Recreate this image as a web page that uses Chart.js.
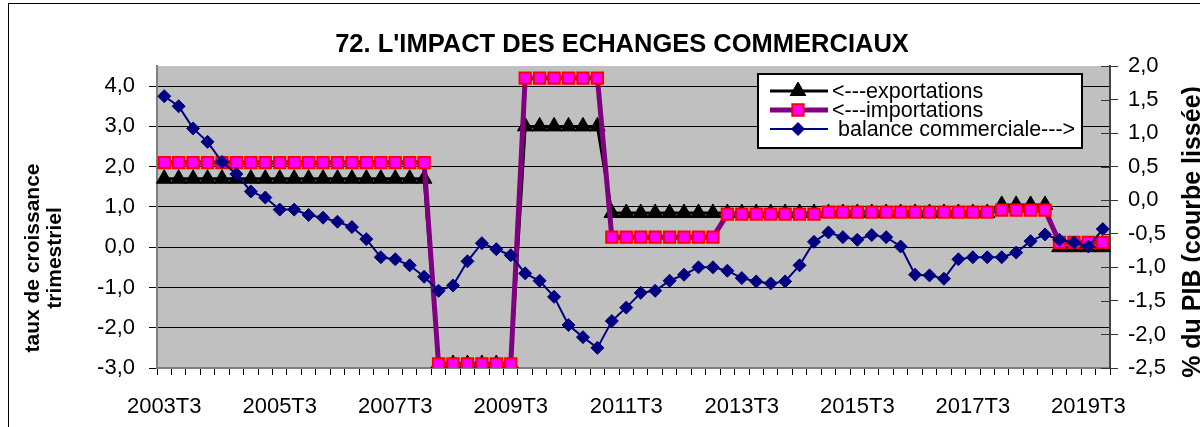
<!DOCTYPE html>
<html>
<head>
<meta charset="utf-8">
<title>L'impact des échanges commerciaux</title>
<script src="https://cdn.jsdelivr.net/npm/chart.js@4.4.0/dist/chart.umd.min.js"></script>
<style>
  html, body { margin: 0; padding: 0; background: #fff; }
  #wrap { width: 1200px; height: 427px; position: relative; }
</style>
</head>
<body>
<div id="wrap"><canvas id="chart"></canvas></div>
<script>
// quarters 2003T3 .. 2019T4
const firstYear = 2003;
const firstQuarter = 3;
const quarterCount = 66;
const quarters = [];
for (let i = 0; i < quarterCount; i++) {
  const q = firstQuarter - 1 + i;
  quarters.push(firstYear + Math.floor(q / 4) + 'T' + (q % 4 + 1));
}

// only every second year is labelled on the x axis
const shownTicks = ['2003T3', '2005T3', '2007T3', '2009T3', '2011T3', '2013T3', '2015T3', '2017T3', '2019T3'];

// taux de croissance trimestriel (left axis)
const exportations = [
  1.7, 1.7, 1.7, 1.7, 1.7, 1.7, 1.7, 1.7, 1.7, 1.7,
  1.7, 1.7, 1.7, 1.7, 1.7, 1.7, 1.7, 1.7, 1.7,
  -2.9, -2.9, -2.9, -2.9, -2.9, -2.9,
  3.0, 3.0, 3.0, 3.0, 3.0, 3.0,
  0.85, 0.85, 0.85, 0.85, 0.85, 0.85, 0.85, 0.85, 0.85, 0.85,
  0.85, 0.85, 0.85, 0.85, 0.85, 0.85, 0.85, 0.85, 0.85, 0.85,
  0.85, 0.85, 0.85, 0.85, 0.85, 0.85, 0.85,
  1.05, 1.05, 1.05, 1.05,
  0.0, 0.0, 0.0, 0.0
];

const importations = [
  2.1, 2.1, 2.1, 2.1, 2.1, 2.1, 2.1, 2.1, 2.1, 2.1,
  2.1, 2.1, 2.1, 2.1, 2.1, 2.1, 2.1, 2.1, 2.1,
  -2.9, -2.9, -2.9, -2.9, -2.9, -2.9,
  4.2, 4.2, 4.2, 4.2, 4.2, 4.2,
  0.25, 0.25, 0.25, 0.25, 0.25, 0.25, 0.25, 0.25,
  0.82, 0.82, 0.82, 0.82, 0.82, 0.82, 0.82,
  0.87, 0.87, 0.87, 0.87, 0.87, 0.87, 0.87, 0.87, 0.87, 0.87, 0.87, 0.87,
  0.92, 0.92, 0.92, 0.92,
  0.12, 0.12, 0.12, 0.12
];

// % du PIB, courbe lissée (right axis)
const balance = [
  1.55, 1.40, 1.07, 0.87, 0.57, 0.39, 0.13, 0.04, -0.14, -0.14,
  -0.22, -0.26, -0.32, -0.40, -0.58, -0.85, -0.88, -0.97, -1.14, -1.35,
  -1.27, -0.91, -0.64, -0.73, -0.82, -1.09, -1.20, -1.44, -1.86, -2.04,
  -2.20, -1.80, -1.60, -1.38, -1.35, -1.20, -1.11, -1.00, -1.00, -1.05,
  -1.16, -1.21, -1.24, -1.21, -0.97, -0.62, -0.48, -0.55, -0.59, -0.52,
  -0.55, -0.69, -1.11, -1.12, -1.17, -0.88, -0.85, -0.85, -0.85, -0.78,
  -0.61, -0.51, -0.59, -0.63, -0.69, -0.43
];

const FONT = "'Liberation Sans', Arial, sans-serif";
const comma = v => v.toFixed(1).replace('.', ',');

// gray plot area, white page and the outer frame
const background = {
  id: 'background',
  beforeDraw(chart) {
    const { ctx, chartArea: a } = chart;
    ctx.save();
    ctx.fillStyle = '#fff';
    ctx.fillRect(0, 0, chart.width, chart.height);
    ctx.fillStyle = '#C0C0C0';
    ctx.fillRect(a.left, a.top, a.right - a.left, a.bottom - a.top);
    ctx.strokeStyle = '#000';
    ctx.lineWidth = 1;
    ctx.strokeRect(8.5, 3.5, chart.width + 20, chart.height + 20);
    ctx.restore();
  }
};

// title, axis titles, crossing ticks on the right axis and the boxed legend
const annotations = {
  id: 'annotations',
  afterDraw(chart) {
    const { ctx } = chart;
    ctx.save();

    // right axis tick marks cross into the plot
    const y1 = chart.scales.y1;
    ctx.strokeStyle = '#333';
    ctx.lineWidth = 1;
    y1.ticks.forEach(t => {
      const py = Math.round(y1.getPixelForValue(t.value)) + 0.5;
      ctx.beginPath();
      ctx.moveTo(y1.left - 9, py);
      ctx.lineTo(y1.left, py);
      ctx.stroke();
    });

    ctx.fillStyle = '#000';
    ctx.textAlign = 'center';
    ctx.textBaseline = 'middle';

    ctx.font = 'bold 25.5px ' + FONT;
    ctx.fillText("72. L'IMPACT DES ECHANGES COMMERCIAUX", 622, 45);

    ctx.font = 'bold 21px ' + FONT;
    ctx.save();
    ctx.translate(33, 258);
    ctx.rotate(-Math.PI / 2);
    ctx.fillText('taux de croissance', 0, 0);
    ctx.fillText('trimestriel', 0, 22);
    ctx.restore();

    ctx.font = 'bold 25px ' + FONT;
    ctx.save();
    ctx.translate(1193, 232);
    ctx.rotate(-Math.PI / 2);
    ctx.fillText('% du PIB (courbe lissée)', 0, 0);
    ctx.restore();

    // legend box
    const box = { x: 758, y: 74, w: 324, h: 74 };
    ctx.fillStyle = '#fff';
    ctx.fillRect(box.x, box.y, box.w, box.h);
    ctx.strokeStyle = '#000';
    ctx.lineWidth = 2;
    ctx.strokeRect(box.x, box.y, box.w, box.h);

    const rows = [91, 110, 129];
    chart.data.datasets.forEach((ds, i) => {
      const y = rows[i];
      ctx.strokeStyle = ds.borderColor;
      ctx.lineWidth = ds.borderWidth;
      ctx.beginPath();
      ctx.moveTo(770, y);
      ctx.lineTo(828, y);
      ctx.stroke();
      ctx.fillStyle = ds.pointBackgroundColor;
      ctx.strokeStyle = ds.pointBorderColor;
      ctx.lineWidth = ds.pointBorderWidth;
      Chart.helpers.drawPoint(ctx, {
        pointStyle: ds.pointStyle,
        radius: ds.pointRadius,
        rotation: 0,
        borderWidth: ds.pointBorderWidth
      }, 798, y);
      ctx.fillStyle = '#000';
      ctx.font = '21.5px ' + FONT;
      ctx.textAlign = 'left';
      ctx.fillText(ds.label, 832, y + 1);
    });
    ctx.restore();
  }
};

new Chart(document.getElementById('chart'), {
  type: 'line',
  data: {
    labels: quarters,
    datasets: [
      {
        label: '<---exportations',
        data: exportations,
        yAxisID: 'y',
        order: 3,
        borderColor: '#000000',
        borderWidth: 3,
        pointStyle: 'triangle',
        pointRadius: 9,
        pointBackgroundColor: '#000000',
        pointBorderColor: '#000000',
        pointBorderWidth: 1,
        tension: 0
      },
      {
        label: '<---importations',
        data: importations,
        yAxisID: 'y',
        order: 2,
        borderColor: '#800080',
        borderWidth: 5,
        pointStyle: 'rect',
        pointRadius: 8,
        pointBackgroundColor: '#FF00FF',
        pointBorderColor: '#FF0000',
        pointBorderWidth: 2,
        tension: 0
      },
      {
        label: ' balance commerciale--->',
        data: balance,
        yAxisID: 'y1',
        order: 1,
        borderColor: '#000080',
        borderWidth: 2,
        pointStyle: 'rectRot',
        pointRadius: 6.5,
        pointBackgroundColor: '#000080',
        pointBorderColor: '#000080',
        pointBorderWidth: 1,
        tension: 0
      }
    ]
  },
  options: {
    responsive: true,
    maintainAspectRatio: false,
    animation: false,
    events: [],
    layout: { padding: { top: 66, left: 0, right: 0, bottom: 0 } },
    plugins: {
      legend: { display: false },
      title: { display: false },
      tooltip: { enabled: false }
    },
    scales: {
      x: {
        type: 'category',
        offset: true,
        afterFit: s => { s.height = 59; },
        border: { color: '#808080', width: 2 },
        grid: { offset: true, drawOnChartArea: false, tickLength: 7, color: '#000' },
        ticks: {
          autoSkip: false,
          maxRotation: 0,
          padding: 19,
          color: '#000',
          font: { family: FONT, size: 22 },
          callback(value) {
            const q = this.getLabelForValue(value);
            return shownTicks.includes(q) ? q : '';
          }
        }
      },
      y: {
        position: 'left',
        min: -3,
        max: 4.5,
        afterFit: s => { s.width = 157; },
        border: { color: '#808080', width: 2 },
        grid: { color: '#000', lineWidth: 1, tickLength: 8 },
        ticks: {
          stepSize: 1,
          includeBounds: false,
          padding: 14,
          color: '#000',
          font: { family: FONT, size: 22 },
          callback: v => comma(v)
        }
      },
      y1: {
        position: 'right',
        min: -2.5,
        max: 2,
        afterFit: s => { s.width = 90; },
        border: { color: '#444', width: 2 },
        grid: { drawOnChartArea: false, color: '#333', tickLength: 8 },
        ticks: {
          stepSize: 0.5,
          padding: 10,
          color: '#000',
          font: { family: FONT, size: 22 },
          callback: v => comma(v)
        }
      }
    }
  },
  plugins: [background, annotations]
});
</script>
</body>
</html>
